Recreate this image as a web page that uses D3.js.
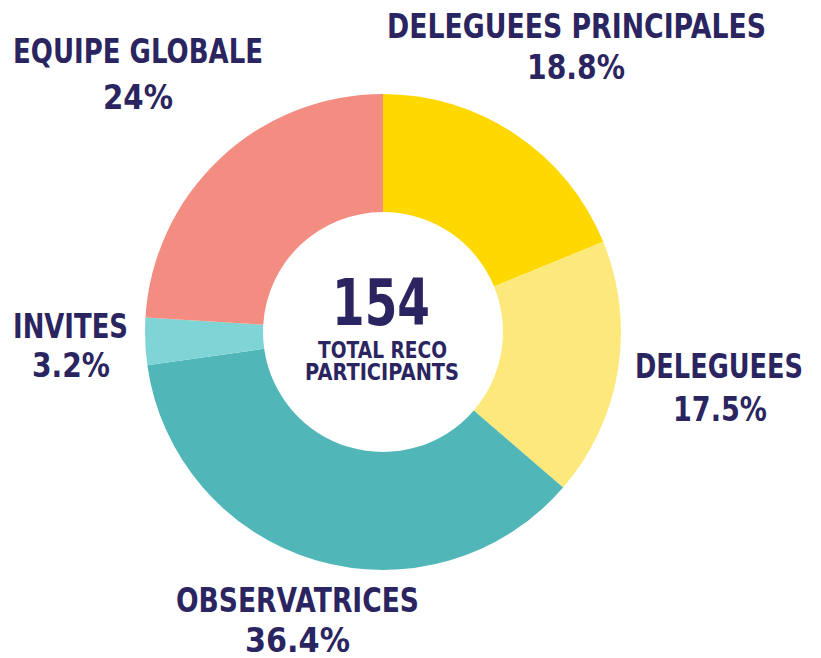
<!DOCTYPE html>
<html>
<head>
<meta charset="utf-8">
<script src="https://cdn.jsdelivr.net/npm/d3@7"></script>
<style>
  body { margin: 0; background: #fff; }
  text { font-family: "DejaVu Sans", sans-serif; font-weight: bold; fill: #2a2560; }
</style>
</head>
<body>
<div class="chart"></div>
<script>
"use strict";

var categories = ['DELEGUEES PRINCIPALES', 'DELEGUEES', 'OBSERVATRICES', 'INVITES', 'EQUIPE GLOBALE']
var shares = [18.8, 17.5, 36.4, 3.2, 24]
var shareLabels = ['18.8%', '17.5%', '36.4%', '3.2%', '24%']
var colors = ['#ffd800', '#fde97b', '#51b6b8', '#7fd5d6', '#f38d82']
var totalValue = '154'
var totalLabel = ['TOTAL RECO', 'PARTICIPANTS']

var width = 821
var height = 658
var cx = 383
var cy = 332
var outerR = 238
var innerR = 120

var svg = d3.select('div.chart').append('svg')
    .attr('width', width)
    .attr('height', height)

var data = categories.map(function (c, i) {
    return { name: c, value: shares[i], label: shareLabels[i], color: colors[i] }
})

var pie = d3.pie()
    .value(d => d.value)
    .sort(null)

var arc = d3.arc()
    .innerRadius(innerR)
    .outerRadius(outerR)

var g = svg.append('g')
    .attr('transform', 'translate(' + cx + ',' + cy + ')')

g.selectAll('path')
    .data(pie(data))
    .enter()
    .append('path')
    .attr('d', arc)
    .attr('fill', d => d.data.color)

// label boxes: left edge and width of name / percentage, baselines
var labelPos = [
    { x: 387, w: 379, y: 38, px: 527, pw: 98, py: 79 },
    { x: 635, w: 168, y: 378, px: 673, pw: 94, py: 421 },
    { x: 176, w: 243, y: 612, px: 245, pw: 105, py: 652 },
    { x: 13, w: 115, y: 338, px: 32, pw: 78, py: 377 },
    { x: 13, w: 250, y: 63, px: 103, pw: 70, py: 109 }
]

// condensed look: squeeze text into the measured width
function fitText(sel, x, w) {
    sel.attr('x', x)
        .attr('textLength', w)
        .attr('lengthAdjust', 'spacingAndGlyphs')
}

data.forEach(function (d, i) {
    var p = labelPos[i]
    svg.append('text')
        .text(d.name)
        .attr('y', p.y)
        .attr('font-size', 33)
        .call(fitText, p.x, p.w)
    svg.append('text')
        .text(d.label)
        .attr('y', p.py)
        .attr('font-size', 34)
        .call(fitText, p.px, p.pw)
})

// centre total
svg.append('text')
    .text(totalValue)
    .attr('y', 325)
    .attr('font-size', 64)
    .call(fitText, 332, 98)

var subPos = [{ x: 318, w: 129, y: 358 }, { x: 305, w: 154, y: 380 }]
totalLabel.forEach(function (t, i) {
    svg.append('text')
        .text(t)
        .attr('y', subPos[i].y)
        .attr('font-size', 23)
        .call(fitText, subPos[i].x, subPos[i].w)
})
</script>
</body>
</html>
